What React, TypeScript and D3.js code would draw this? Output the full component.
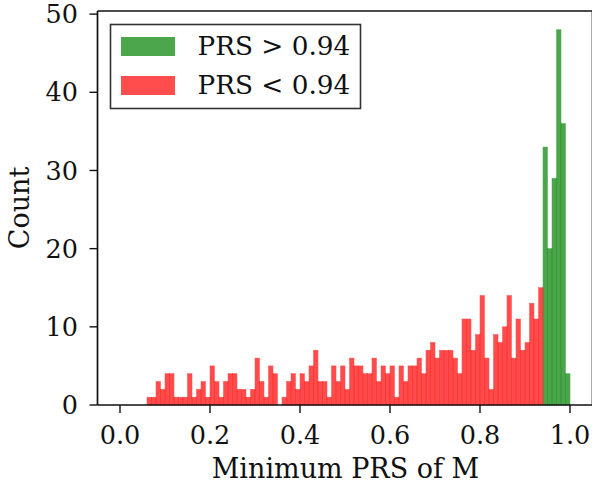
import React from "react";
import * as d3 from "d3";

const binStarts: number[] = d3.range(0, 100).map((i) => i / 100);
const binWidth = 0.01;

// counts for bins 0.06 .. 0.93 (PRS < 0.94)
const lowCounts: number[] = [
  1, 1, 3, 2, 4, 4, 1, 1, 1, 4, 1, 2, 3, 1, 5, 3, 1, 3, 4, 4,
  2, 2, 1, 2, 6, 3, 1, 5, 4, 0, 1, 3, 4, 2, 4, 3, 5, 7, 3, 3,
  1, 5, 3, 5, 2, 6, 5, 5, 4, 4, 6, 3, 5, 4, 5, 1, 5, 3, 5, 5,
  6, 4, 7, 8, 6, 7, 7, 7, 6, 4, 11, 11, 7, 9, 14, 6, 2, 9, 8, 10,
  14, 6, 11, 7, 8, 13, 11, 15,
];
const lowStartBin = 6;
// counts for bins 0.94 .. 0.99 (PRS > 0.94)
const highCounts: number[] = [33, 20, 29, 48, 36, 4];
const highStartBin = 94;

const xTicks: number[] = [0, 0.2, 0.4, 0.6, 0.8, 1.0];
const yTicks: number[] = [0, 10, 20, 30, 40, 50];
const legendLabels: string[] = ["PRS > 0.94", "PRS < 0.94"];
const xLabel = "Minimum PRS of M";
const yLabel = "Count";

const W = 592;
const H = 483;
const FONT = "'DejaVu Serif', serif";

export default function App() {
  const x = d3.scaleLinear().domain([-0.05, 1.05]).range([97.5, 592.5]);
  const y = d3.scaleLinear().domain([0, 50.4]).range([405, 11]);

  const red = "#ff0000";
  const green = "#008000";

  const lowBars = lowCounts.map((c, i) => ({ x0: binStarts[lowStartBin + i], c }));
  const highBars = highCounts.map((c, i) => ({ x0: binStarts[highStartBin + i], c }));

  const bar = (b: { x0: number; c: number }, color: string, key: string) =>
    b.c > 0 ? (
      <rect
        key={key}
        x={x(b.x0)}
        y={y(b.c)}
        width={x(b.x0 + binWidth) - x(b.x0)}
        height={y(0) - y(b.c)}
        fill={color}
        stroke={color}
        strokeWidth={0.5}
        opacity={0.7}
      />
    ) : null;

  return (
    <svg
      width={W}
      height={H}
      style={{ position: "absolute", left: 0, top: 0, background: "white" }}
      fontFamily={FONT}
    >
      <rect x={0} y={0} width={W} height={H} fill="white" />
      {highBars.map((b, i) => bar(b, green, "h" + i))}
      {lowBars.map((b, i) => bar(b, red, "l" + i))}

      {/* spines */}
      <line x1={x(-0.05)} x2={x(-0.05)} y1={y(0)} y2={y(50.4)} stroke="#111" strokeWidth={1.7} />
      <line x1={x(-0.05)} x2={x(1.05)} y1={y(0)} y2={y(0)} stroke="#111" strokeWidth={1.7} />
      <line x1={x(-0.05)} x2={x(1.05)} y1={y(50.4)} y2={y(50.4)} stroke="#111" strokeWidth={1.7} />
      <line x1={x(1.05)} x2={x(1.05)} y1={y(0)} y2={y(50.4)} stroke="#111" strokeWidth={1.7} />

      {/* x ticks */}
      {xTicks.map((t) => (
        <g key={"xt" + t}>
          <line x1={x(t)} x2={x(t)} y1={y(0)} y2={y(0) + 8} stroke="#111" strokeWidth={1.4} />
          <text x={x(t)} y={444} fontSize={25.5} textAnchor="middle" fill="#111">
            {t.toFixed(1)}
          </text>
        </g>
      ))}
      {/* y ticks */}
      {yTicks.map((t) => (
        <g key={"yt" + t}>
          <line x1={x(-0.05) - 8} x2={x(-0.05)} y1={y(t)} y2={y(t)} stroke="#111" strokeWidth={1.4} />
          <text x={78} y={y(t)} dy="0.36em" fontSize={25.5} textAnchor="end" fill="#111">
            {t}
          </text>
        </g>
      ))}

      <text x={345.5} y={478} fontSize={27} textAnchor="middle" fill="#111">
        {xLabel}
      </text>
      <text
        transform={`translate(29, ${(y(0) + y(50.4)) / 2}) rotate(-90)`}
        fontSize={27}
        textAnchor="middle"
        fill="#111"
      >
        {yLabel}
      </text>

      {/* legend */}
      <g>
        <rect x={110.5} y={24.5} width={250} height={84} fill="white" stroke="#333" strokeWidth={1.6} />
        <rect x={121} y={37} width={54} height={19} fill={green} opacity={0.7} />
        <rect x={121} y={76} width={54} height={19} fill={red} opacity={0.7} />
        <text x={197.5} y={55} fontSize={26.3} fill="#111">
          {legendLabels[0]}
        </text>
        <text x={197.5} y={94} fontSize={26.3} fill="#111">
          {legendLabels[1]}
        </text>
      </g>
    </svg>
  );
}
